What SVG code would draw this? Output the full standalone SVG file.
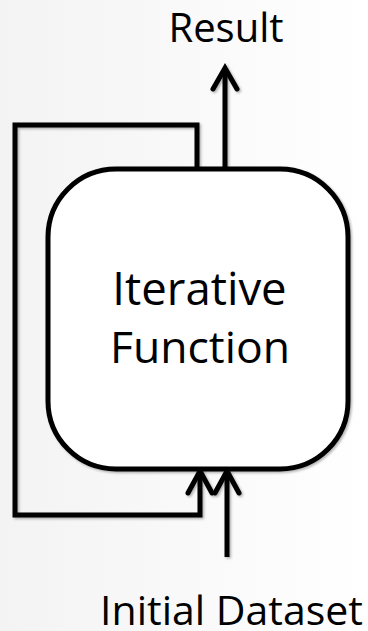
<svg xmlns="http://www.w3.org/2000/svg" width="368" height="631" viewBox="0 0 368 631">
<defs>
<linearGradient id="bg" x1="0" y1="0" x2="1" y2="0">
<stop offset="0" stop-color="#f3f3f3"/>
<stop offset="1" stop-color="#ffffff"/>
</linearGradient>
<filter id="sh" x="-10%" y="-10%" width="120%" height="120%">
<feDropShadow dx="1.5" dy="1.5" stdDeviation="1.2" flood-color="#000" flood-opacity="0.3"/>
</filter>
</defs>
<style>
.ln{fill:none;stroke:#000;stroke-width:5;stroke-linejoin:miter}
.hd{fill:none;stroke:#000;stroke-width:5;stroke-linecap:round;stroke-linejoin:miter}
.t{font-family:"Open Sans","Liberation Sans",sans-serif;fill:#000;text-anchor:middle}
</style>
<rect width="368" height="631" fill="url(#bg)"/>
<g id="connectors" filter="url(#sh)">
<path class="ln" d="M200,472 V515 H15 V125 H197 V169"/>
<polyline class="hd" points="188,493 200,471 212,493"/>
<path class="ln" d="M225,169 V70"/>
<polyline class="hd" points="213,89 225,68 237,89"/>
<path class="ln" d="M227,557 V472"/>
<polyline class="hd" points="215,493 227,471 239,493"/>
</g>
<g id="iterative-function">
<rect x="48" y="169" width="300" height="300" rx="68" ry="68" fill="#fff" stroke="#000" stroke-width="5" filter="url(#sh)"/>
<text class="t" x="199.5" y="305" font-size="45.5">Iterative</text>
<text class="t" x="200" y="363" font-size="44.5">Function</text>
</g>
<g id="result">
<text class="t" x="226" y="42" font-size="40">Result</text>
</g>
<g id="initial-dataset">
<text class="t" x="231.5" y="625" font-size="41">Initial Dataset</text>
</g>
</svg>
